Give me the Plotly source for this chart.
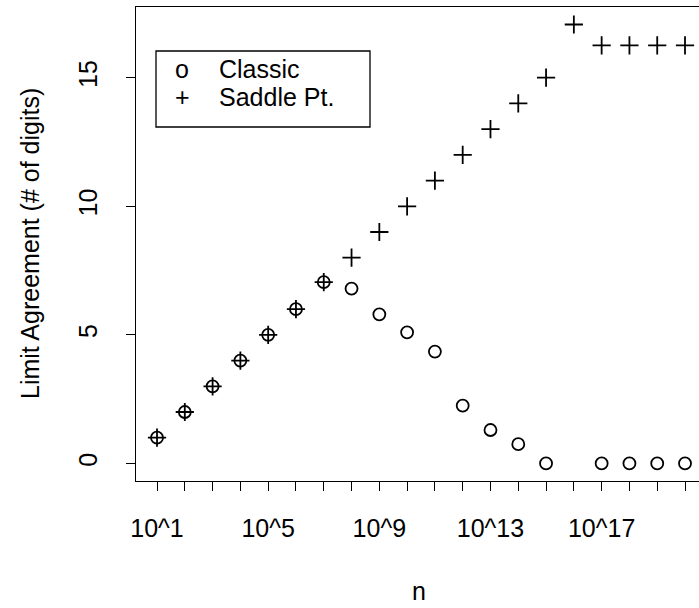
import plotly.graph_objects as go

# exponents of n (n = 10^k)
exponent = list(range(1, 21))
classic = [1.0, 2.0, 3.0, 4.0, 5.0, 6.0, 7.05, 6.8, 5.8, 5.1, 4.35, 2.25, 1.3, 0.75, 0.0,
           None, 0.0, 0.0, 0.0, 0.0]
saddle = [1.0, 2.0, 3.0, 4.0, 5.0, 6.0, 7.05, 8.0, 9.0, 10.0, 11.0, 12.0, 13.0, 14.0, 15.0,
          17.07, 16.26, 16.26, 16.26, 16.26]
tick_labels = ["10^%d" % k if k in (1, 5, 9, 13, 17) else "" for k in exponent]
y_ticks = [0, 5, 10, 15]

W, H = 699, 608
L, T, B = 136, 7, 481   # plot region in pixels
FONT = "Liberation Sans, Arial, sans-serif"


def px_x(p):
    return (p - L) / (W - L)


def px_y(p):
    return (B - p) / (B - T)


fig = go.Figure()
fig.add_trace(go.Scatter(x=exponent, y=classic, mode="markers", name="Classic",
                         marker=dict(symbol="circle-open", size=12, color="black",
                                     line=dict(width=1.8, color="black"))))
fig.add_trace(go.Scatter(x=exponent, y=saddle, mode="markers", name="Saddle Pt.",
                         marker=dict(symbol="cross-thin-open", size=13, color="black",
                                     line=dict(width=1.8, color="black"))))

fig.update_layout(
    width=W, height=H,
    margin=dict(l=L, r=0, t=T, b=H - B, pad=0),
    template="none",
    paper_bgcolor="white", plot_bgcolor="white",
    showlegend=False,
    font=dict(family=FONT, size=25, color="black"),
)
fig.update_xaxes(
    range=[0.244, 1 + (W - 157) / 27.79],
    tickmode="array", tickvals=exponent, ticktext=tick_labels,
    ticks="outside", ticklen=9, tickwidth=1, tickcolor="black",
    showline=True, linecolor="black", linewidth=1.3, mirror=True,
    showgrid=False, zeroline=False, ticklabelstandoff=16,
)
fig.update_yaxes(
    range=[-0.683, 17.75],
    tickmode="array", tickvals=y_ticks, ticktext=[str(v) for v in y_ticks],
    tickangle=-90,
    ticks="outside", ticklen=9, tickwidth=1, tickcolor="black",
    showline=True, linecolor="black", linewidth=1.3, mirror=False,
    showgrid=False, zeroline=False, ticklabelstandoff=19,
)

# axis titles
fig.add_annotation(text="n", x=px_x(419), y=px_y(591), xref="paper", yref="paper",
                   showarrow=False, xanchor="center", yanchor="middle")
fig.add_annotation(text="Limit Agreement (# of digits)", x=px_x(30), y=px_y(244),
                   xref="paper", yref="paper", textangle=-90,
                   showarrow=False, xanchor="center", yanchor="middle")

# legend box drawn like R's legend()
fig.add_shape(type="rect", xref="paper", yref="paper",
              x0=px_x(156), x1=px_x(370), y0=px_y(127), y1=px_y(51),
              line=dict(color="black", width=1.3), fillcolor="white", layer="below")
for label, sym, cy in [("Classic", "o", 69), ("Saddle Pt.", "+", 97)]:
    fig.add_annotation(text=sym, x=px_x(182), y=px_y(cy), xref="paper", yref="paper",
                       showarrow=False, xanchor="center", yanchor="middle")
    fig.add_annotation(text=label, x=px_x(217), y=px_y(cy), xref="paper", yref="paper",
                       showarrow=False, xanchor="left", yanchor="middle")

# page body has a default 8px margin; drop it so the figure sits at the corner
fig.write_html("out.html", config={"displayModeBar": False},
               post_script="document.body.style.margin = '0';")
